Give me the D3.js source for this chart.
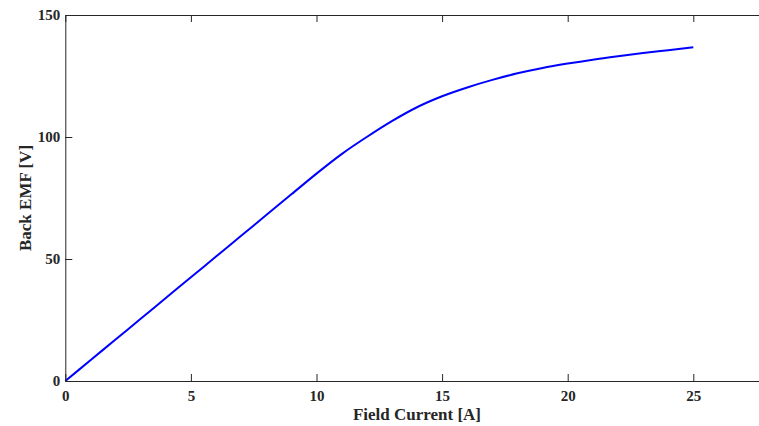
<!DOCTYPE html>
<html>
  <head>
  <title>Back EMF</title>
  <style>
    body, html {
      margin: 0;
      padding: 0;
      background: #fff;
      overflow: hidden;
    }
    .axis text {
      font-family: "Liberation Serif", "Times New Roman", serif;
      font-weight: bold;
      font-size: 15px;
      fill: #262626;
    }
    .axis path, .axis line {
      stroke: #262626;
    }
    .label {
      font-family: "Liberation Serif", "Times New Roman", serif;
      font-weight: bold;
      font-size: 17px;
      fill: #262626;
    }
  </style>
  </head>
  <body>

  <svg id="svg" width="759" height="426"></svg>

  <script src="https://d3js.org/d3.v7.min.js"></script>
  <script>
    // field current [A]
    const current = [0, 1, 2, 3, 4, 5, 6, 7, 8, 9, 10, 11, 12, 13, 14, 15, 16, 17, 18, 19, 20, 21, 22, 23, 24, 25]
    // back emf [V]
    const emf = [0, 8.5, 17, 25.5, 34, 42.5, 51, 59.5, 68, 76.5, 85, 93, 100, 106.5, 112.2, 116.7, 120.3, 123.4, 126.1, 128.3, 130.1, 131.7, 133.1, 134.4, 135.6, 136.8]
    const xTicks = [0, 5, 10, 15, 20, 25]
    const yTicks = [0, 50, 100, 150]

    const data = current.map((c, i) => ({ x: c, y: emf[i] }))

    const margin = { top: 15, left: 65.3, bottom: 45 }
    const height = 426 - margin.top - margin.bottom

    const xscale = d3.scaleLinear()
      .domain([0, 28])
      .range([margin.left, margin.left + 28 * 25.12])
    const yscale = d3.scaleLinear()
      .domain([0, 150])
      .range([margin.top + height, margin.top])

    const svg = d3.select('#svg')

    const line = d3.line()
      .curve(d3.curveMonotoneX)
      .x(d => xscale(d.x))
      .y(d => yscale(d.y))

    svg.append('path')
      .datum(data)
      .attr('fill', 'none')
      .attr('stroke', '#0000ff')
      .attr('stroke-width', 2)
      .attr('stroke-linejoin', 'round')
      .attr('d', line)

    const bottomAxis = d3.axisBottom(xscale)
      .tickValues(xTicks)
      .tickSizeInner(-7)
      .tickSizeOuter(0)
      .tickPadding(9)
    const topAxis = d3.axisTop(xscale)
      .tickValues(xTicks)
      .tickSizeInner(-7)
      .tickSizeOuter(0)
      .tickFormat('')
    const leftAxis = d3.axisLeft(yscale)
      .tickValues(yTicks)
      .tickSizeInner(-7)
      .tickSizeOuter(0)
      .tickPadding(5)

    svg.append('g')
      .attr('class', 'axis')
      .attr('transform', `translate(0, ${yscale(0)})`)
      .call(bottomAxis)

    svg.append('g')
      .attr('class', 'axis')
      .attr('transform', `translate(0, ${yscale(150)})`)
      .call(topAxis)

    svg.append('g')
      .attr('class', 'axis')
      .attr('transform', `translate(${xscale(0)}, 0)`)
      .call(leftAxis)

    svg.append('text')
      .attr('class', 'label')
      .attr('x', xscale(14))
      .attr('y', 420)
      .attr('text-anchor', 'middle')
      .text('Field Current [A]')

    svg.append('text')
      .attr('class', 'label')
      .attr('transform', `translate(31, ${yscale(75)}) rotate(-90)`)
      .attr('text-anchor', 'middle')
      .text('Back EMF [V]')
  </script>
  </body>
</html>
